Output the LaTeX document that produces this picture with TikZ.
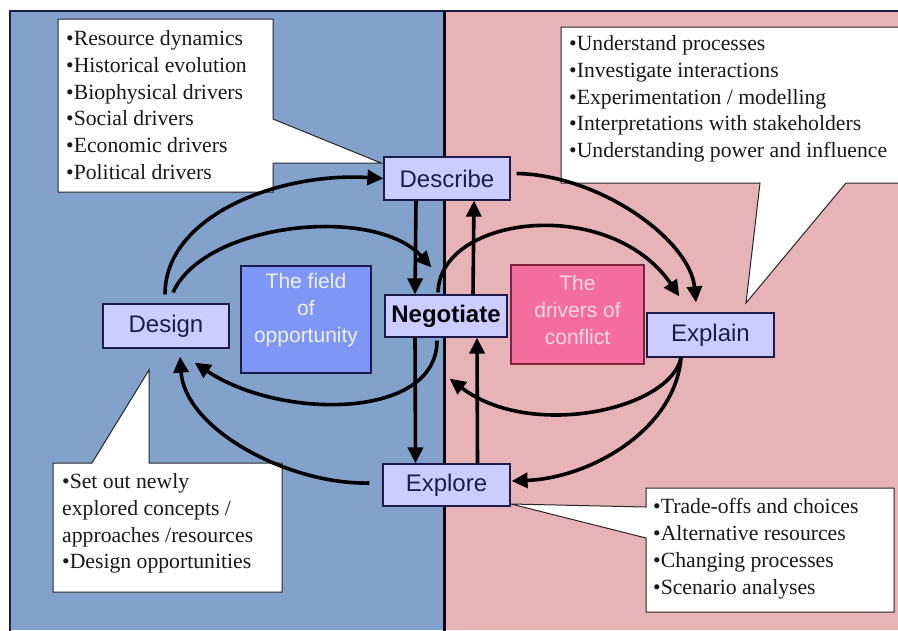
\documentclass[tikz,border=0pt]{standalone}
\usepackage{fontspec}
\setmainfont{Liberation Serif}
\setsansfont{Liberation Sans}
\usetikzlibrary{arrows.meta,calc}
\definecolor{bgblue}{HTML}{82A1CB}
\definecolor{bgpink}{HTML}{E7B3B7}
\definecolor{nodefill}{HTML}{CCCCFF}
\definecolor{navy}{HTML}{1C1C4C}
\definecolor{fieldblue}{HTML}{7E96F4}
\definecolor{conflictpink}{HTML}{F46E9D}
\definecolor{conflictborder}{HTML}{7A2440}
\definecolor{fieldtext}{HTML}{EEF0FC}
\definecolor{conflicttext}{HTML}{FBD6E4}
\begin{document}
\begin{tikzpicture}[x=1pt,y=-1pt,
  stage/.style={draw=navy, line width=1.2pt, fill=nodefill, text=navy,
    font=\sffamily\fontsize{24}{28}\selectfont, inner sep=0pt},
  zonebox/.style={line width=1.2pt, inner sep=0pt},
  zonetext/.style={font=\sffamily\fontsize{21}{27}\selectfont, align=center, inner sep=0pt},
  callout/.style={draw=black!85, line width=1pt, fill=white},
  bullets/.style={font=\fontsize{21.7}{26.8}\selectfont, align=left, inner sep=0pt,
    anchor=north west, text=black!90},
  flow/.style={line width=3.6pt, -{Triangle[length=16pt,width=15pt]}},
]
% background
\path[use as bounding box] (0,0) rectangle (898,630);
\fill[white] (0,0) rectangle (898,630);
\fill[bgblue] (10,11) rectangle (444,630);
\fill[bgpink] (444,11) rectangle (898,630);
\draw[line width=2pt, navy] (10,640) -- (10,11) -- (900,11);
\draw[line width=3pt, black!80!navy] (444,11) -- (444,640);

% callouts
\draw[callout] (58,19) -- (273,19) -- (273,119) -- (381,163) -- (273,163) -- (273,192) -- (58,192) -- cycle;
\draw[callout] (561,27) -- (905,27) -- (905,183) -- (846,183) -- (746,303) -- (760,183) -- (561,183) -- cycle;
\draw[callout] (53,463) -- (92,463) -- (149,370) -- (149,463) -- (282,463) -- (282,592) -- (53,592) -- cycle;
\draw[callout] (646,488) -- (894,488) -- (894,612) -- (646,612) -- (646,538) -- (511,504) -- (646,507) -- cycle;

\node[bullets] (describetext) at (66,30.3) {•Resource dynamics\\•Historical evolution\\•Biophysical drivers\\•Social drivers\\•Economic drivers\\•Political drivers};
\node[bullets] (explaintext) at (569,35.3) {•Understand processes\\•Investigate interactions\\•Experimentation / modelling\\•Interpretations with stakeholders\\•Understanding power and influence};
\node[bullets] (designtext) at (62,473.3) {•Set out newly\\explored concepts /\\approaches /resources\\•Design opportunities};
\node[bullets] (exploretext) at (653,498.3) {•Trade-offs and choices\\•Alternative resources\\•Changing processes\\•Scenario analyses};

% zone boxes
\node[zonebox, draw=navy, fill=fieldblue, minimum width=130pt, minimum height=107pt] (field) at (306,319.5) {};
\node[zonetext, text=fieldtext] (fieldlabel) at ($(field.center)+(0,-9)$) {The field\\of\\opportunity};
\node[zonebox, draw=conflictborder, fill=conflictpink, minimum width=133pt, minimum height=99pt] (drivers) at (577.5,314.5) {};
\node[zonetext, text=conflicttext] (driverslabel) at ($(drivers.center)+(0,-5)$) {The\\drivers of\\conflict};

% stage nodes
\node[stage, minimum width=126pt, minimum height=43pt] (describe) at (447,178.5) {Describe};
\node[stage, minimum width=122pt, minimum height=42pt, text=black!85!navy, font=\sffamily\bfseries\fontsize{24}{28}\selectfont] (negotiate) at (446,316) {Negotiate};
\node[stage, minimum width=127pt, minimum height=42pt] (explore) at (446.5,485) {Explore};
\node[stage, minimum width=126pt, minimum height=44pt] (design) at (166,326) {Design};
\node[stage, minimum width=127pt, minimum height=44pt] (explain) at (710.5,335) {Explain};

% straight connectors
\draw[flow] ([xshift=-31pt]describe.south) -- ([xshift=-31pt]negotiate.north);
\draw[flow] ([xshift=27pt]negotiate.north) -- ([xshift=27pt]describe.south);
\draw[flow] ([xshift=-31pt]negotiate.south) -- ([xshift=-31pt]explore.north);
\draw[flow] ([xshift=31pt]explore.north) -- ([xshift=31pt]negotiate.south);

% curved connectors
\draw[flow] ($(design.north)+(-1,-9)$) .. controls (165,215) and (280,172) .. (describe.west);
\draw[flow] ($(design.north)+(7,-11)$) .. controls (205,222) and (375,205) .. ($(negotiate.north west)+(47,-27)$);
\draw[flow] ($(describe.east)+(6,-5)$) .. controls (600,175) and (690,240) .. ($(explain.north)+(-14.5,-10)$);
\draw[flow] ($(negotiate.north)+(-8,-2)$) .. controls (440,215) and (610,195) .. ($(explain.north west)+(33,-16)$);
\draw[flow] ($(negotiate.south)+(-9,3)$) .. controls (437,420) and (280,420) .. ($(design.south east)+(-35,14)$);
\draw[flow] ($(explore.west)+(-13,-2)$) .. controls (290,485) and (185,430) .. ($(design.south)+(14,8)$);
\draw[flow] ($(explain.south)+(-29.5,0)$) .. controls (670,410) and (530,440) .. ($(negotiate.south east)+(-58,41)$);
\draw[flow] ($(explain.south)+(-29.5,0)$) .. controls (675,430) and (590,478) .. ($(explore.east)+(1,-4)$);
\end{tikzpicture}
\end{document}
